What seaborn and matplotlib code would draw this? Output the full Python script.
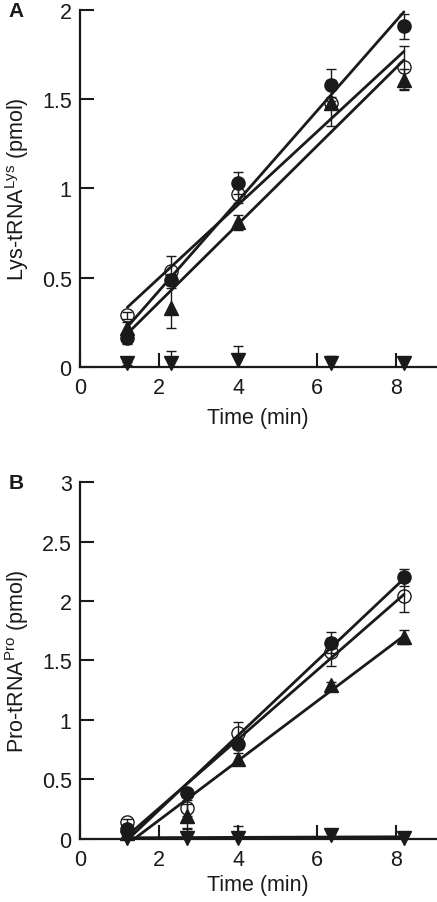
import numpy as np
import matplotlib
matplotlib.use("Agg")
import matplotlib.pyplot as plt
import seaborn as sns

sns.set_style("ticks")
plt.rcParams['font.family'] = ['Liberation Sans', 'DejaVu Sans']
plt.rcParams['mathtext.fontset'] = 'custom'
plt.rcParams['mathtext.rm'] = 'Liberation Sans'
plt.rcParams['mathtext.it'] = 'Liberation Sans'

# ---- Panel A: Lys-tRNA(Lys) ----
time_a = [1.2, 2.3, 4.0, 6.35, 8.2]
lys_filled_circle = [0.16, 0.49, 1.03, 1.58, 1.91]
lys_filled_circle_err = [0.03, 0.03, 0.06, 0.09, 0.07]
lys_open_circle = [0.29, 0.54, 0.97, 1.48, 1.68]
lys_open_circle_err = [0.02, 0.08, 0.05, 0.13, 0.12]
lys_triangle = [0.22, 0.33, 0.81, 1.48, 1.61]
lys_triangle_err = [0.03, 0.11, 0.04, 0.03, 0.06]
lys_inv_triangle = [0.02, 0.02, 0.04, 0.02, 0.02]
lys_inv_triangle_err = [0.01, 0.07, 0.08, 0.04, 0.02]

# ---- Panel B: Pro-tRNA(Pro) ----
time_b = [1.2, 2.7, 4.0, 6.35, 8.2]
pro_filled_circle = [0.08, 0.39, 0.80, 1.65, 2.20]
pro_filled_circle_err = [0.02, 0.02, 0.04, 0.09, 0.07]
pro_open_circle = [0.14, 0.26, 0.89, 1.57, 2.04]
pro_open_circle_err = [0.03, 0.07, 0.09, 0.12, 0.13]
pro_triangle = [0.05, 0.19, 0.67, 1.29, 1.70]
pro_triangle_err = [0.02, 0.10, 0.05, 0.03, 0.06]
pro_inv_triangle = [0.01, 0.01, 0.01, 0.03, 0.01]
pro_inv_triangle_err = [0.01, 0.07, 0.10, 0.02, 0.02]

x_ticks = [0, 2, 4, 6, 8]
a_yticks = [0, 0.5, 1, 1.5, 2]
a_yticklabels = ["0", "0.5", "1", "1.5", "2"]
b_yticks = [0, 0.5, 1, 1.5, 2, 2.5, 3]
b_yticklabels = ["0", "0.5", "1", "1.5", "2", "2.5", "3"]

INK = "#1a1a1a"
fig = plt.figure(figsize=(4.37, 9.03), dpi=100)
axA = fig.add_axes([0.183, 0.5925, 0.8137, 0.3953])
axB = fig.add_axes([0.183, 0.0698, 0.8137, 0.3953])

styles = [
    dict(marker='o', mfc=INK, mec=INK),
    dict(marker='o', mfc='none', mec=INK),
    dict(marker='^', mfc=INK, mec=INK),
    dict(marker='v', mfc=INK, mec=INK),
]


def draw(ax, t, series, fit_flags, ymax, yticks, yticklabels, ylabel, letter,
         xlabelpad):
    for (y, e), st, fit in zip(series, styles, fit_flags):
        if fit:
            sns.regplot(x=np.array(t), y=np.array(y), ax=ax, scatter=False, ci=None,
                        color=INK, line_kws=dict(lw=2.0, zorder=2))
        ax.errorbar(t, y, yerr=e, fmt='none', ecolor=INK, elinewidth=1.0,
                    capsize=3.5, capthick=1.0, zorder=3)
        ax.plot(t, y, linestyle='none', markersize=9.5, markeredgewidth=1.0,
                zorder=4, clip_on=False, **st)
    ax.set_xlim(0, 9)
    ax.set_ylim(0, ymax)
    ax.set_xticks(x_ticks)
    ax.set_xticklabels([str(v) for v in x_ticks])
    ax.set_yticks(yticks)
    ax.set_yticklabels(yticklabels)
    ax.tick_params(direction='in', length=10, width=1.5, color=INK,
                   labelsize=15.5, labelcolor=INK)
    ax.tick_params(axis='x', pad=7)
    ax.tick_params(axis='y', pad=6)
    for side in ['top', 'right']:
        ax.spines[side].set_visible(False)
    for side in ['left', 'bottom']:
        ax.spines[side].set_linewidth(1.6)
        ax.spines[side].set_color(INK)
    ax.set_xlabel("Time (min)", fontsize=15.5, color=INK, labelpad=xlabelpad)
    ax.set_ylabel(ylabel, fontsize=15.5, color=INK, labelpad=8)
    ax.text(-0.2, 1.0, letter, transform=ax.transAxes, fontsize=15,
            fontweight='bold', color=INK, ha='left', va='center')


draw(axA, time_a,
     [(lys_filled_circle, lys_filled_circle_err),
      (lys_open_circle, lys_open_circle_err),
      (lys_triangle, lys_triangle_err),
      (lys_inv_triangle, lys_inv_triangle_err)],
     [True, True, True, False], 2, a_yticks, a_yticklabels,
     r"Lys-tRNA$^{\mathrm{Lys}}$ (pmol)", "A", 7)

draw(axB, time_b,
     [(pro_filled_circle, pro_filled_circle_err),
      (pro_open_circle, pro_open_circle_err),
      (pro_triangle, pro_triangle_err),
      (pro_inv_triangle, pro_inv_triangle_err)],
     [True, True, True, True], 3, b_yticks, b_yticklabels,
     r"Pro-tRNA$^{\mathrm{Pro}}$ (pmol)", "B", 3)

fig.savefig("out.png", dpi=100)
